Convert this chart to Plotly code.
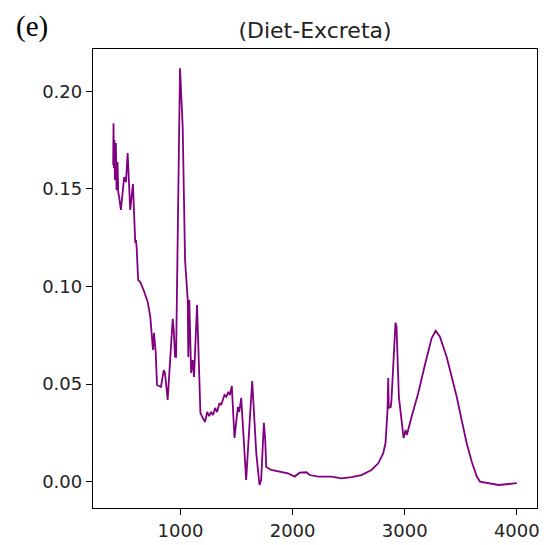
import plotly.graph_objects as go

# Wavenumber (cm^-1) and absorbance difference (Diet - Excreta)
wavenumber = [400, 403, 406, 411, 415, 424, 430, 439, 445, 453, 469, 482, 498, 514, 529, 540,
              552, 576, 588, 597, 603, 609, 623, 641, 671, 708, 731, 743, 755, 764, 779, 791,
              809, 826, 851, 862, 886, 931, 940, 952, 961, 996, 1020, 1041, 1065, 1070, 1079,
              1095, 1110, 1121, 1148, 1178, 1199, 1220, 1238, 1256, 1273, 1291, 1309, 1327,
              1348, 1363, 1392, 1408, 1428, 1441, 1458, 1482, 1512, 1524, 1542, 1586, 1613,
              1640, 1676, 1705, 1720, 1744, 1756, 1765, 1810, 1899, 1959, 2018, 2063, 2123,
              2152, 2227, 2346, 2436, 2525, 2614, 2704, 2764, 2808, 2829, 2847, 2853, 2858,
              2876, 2882, 2918, 2927, 2948, 2972, 2990, 3008, 3019, 3061, 3121, 3180, 3240,
              3276, 3314, 3374, 3419, 3464, 3508, 3553, 3598, 3643, 3672, 3747, 3837, 3926, 4000]
absorbance = [0.1622, 0.1836, 0.1607, 0.1751, 0.1546, 0.1735, 0.1494, 0.1638, 0.1484, 0.1459,
              0.1392, 0.1469, 0.1561, 0.1535, 0.1684, 0.1546, 0.1392, 0.1525, 0.1289, 0.1223,
              0.1238, 0.1202, 0.1033, 0.1023, 0.0982, 0.0921, 0.0844, 0.0762, 0.0675, 0.0762,
              0.0664, 0.0495, 0.0490, 0.0485, 0.0572, 0.0557, 0.0419, 0.0834, 0.0777, 0.0639,
              0.0639, 0.2118, 0.1817, 0.1136, 0.0931, 0.0639, 0.0931, 0.0557, 0.0623, 0.0536,
              0.0905, 0.0352, 0.0326, 0.0306, 0.0357, 0.0336, 0.0357, 0.0341, 0.0378, 0.0357,
              0.0403, 0.0393, 0.0444, 0.0434, 0.0460, 0.0444, 0.0490, 0.0224, 0.0383, 0.0357,
              0.0429, 0.0009, 0.0265, 0.0516, 0.0147, -0.0017, 0.0009, 0.0301, 0.0214, 0.0075,
              0.0060, 0.0051, 0.0043, 0.0026, 0.0046, 0.0048, 0.0034, 0.0026, 0.0026, 0.0017,
              0.0023, 0.0034, 0.0060, 0.0094, 0.0145, 0.0198, 0.0367, 0.0531, 0.0378, 0.0383,
              0.0419, 0.0815, 0.0794, 0.0434, 0.0301, 0.0223, 0.0265, 0.0239, 0.0331, 0.0454,
              0.0598, 0.0735, 0.0774, 0.0743, 0.0640, 0.0538, 0.0435, 0.0316, 0.0197, 0.0102,
              0.0026, 0.0000, -0.0008, -0.0017, -0.0012, -0.0008]

x_ticks = [1000, 2000, 3000, 4000]
y_ticks = [0.00, 0.05, 0.10, 0.15, 0.20]
y_tick_text = ["0.00", "0.05", "0.10", "0.15", "0.20"]

fig = go.Figure()
fig.add_trace(go.Scatter(x=wavenumber, y=absorbance, mode="lines",
                         line=dict(color="#800080", width=1.8), showlegend=False))

axis_common = dict(showline=True, linecolor="black", linewidth=1.3, mirror=True,
                   ticks="outside", ticklen=6, tickwidth=1.2, tickcolor="black",
                   showgrid=False, zeroline=False, automargin=False,
                   tickfont=dict(family="DejaVu Sans", size=18, color="#222222"))

fig.update_xaxes(range=[220, 4180], tickvals=x_ticks, **axis_common)
fig.update_yaxes(range=[-0.0135, 0.2217], tickvals=y_ticks, ticktext=y_tick_text, **axis_common)

T, B, L, R = 49, 37, 93, 10
fig.update_layout(
    width=547, height=545,
    margin=dict(l=L, r=R, t=T, b=B),
    paper_bgcolor="white", plot_bgcolor="white",
    title=dict(text="(Diet-Excreta)", x=0.5, xref="paper", xanchor="center",
               y=1 - 30 / 545, yref="container", yanchor="middle",
               font=dict(family="DejaVu Sans", size=22, color="#222222")),
    annotations=[dict(text="(e)", xref="paper", yref="paper",
                      x=(14 - L) / (547 - L - R), y=1 + (T - 26) / (545 - T - B),
                      xanchor="left", yanchor="middle", showarrow=False,
                      font=dict(family="Liberation Serif", size=29, color="black"))],
)

fig.write_html("out.html")
